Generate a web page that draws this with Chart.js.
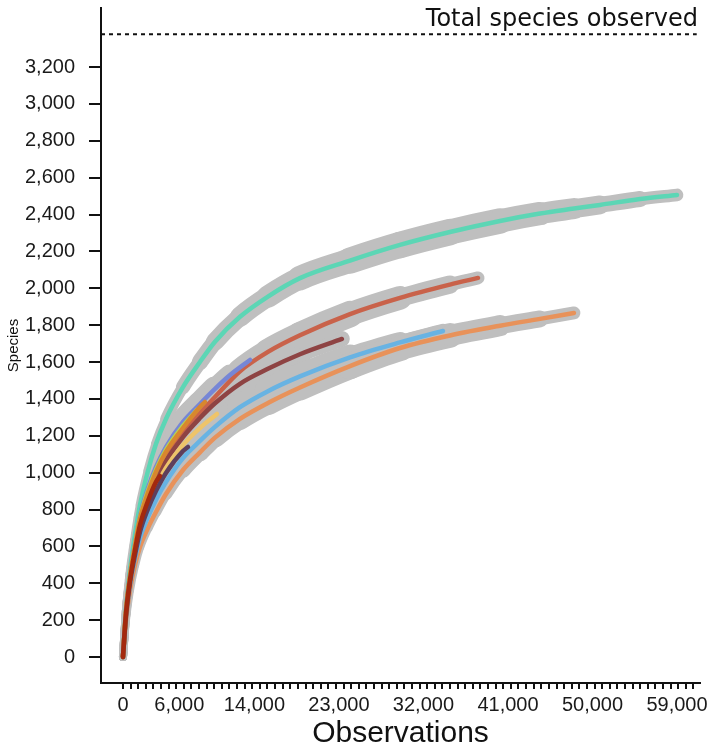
<!DOCTYPE html>
<html>
<head>
<meta charset="utf-8">
<script src="https://cdn.jsdelivr.net/npm/chart.js@4.4.1/dist/chart.umd.min.js"></script>
<style>
  html, body { margin: 0; padding: 0; background: #ffffff; }
  #wrap { width: 719px; height: 752px; }
</style>
</head>
<body>
<div id="wrap"><canvas id="c" width="719" height="752"></canvas></div>
<script>
// ---------- data ----------
const totalSpecies = 3378;
const xTickLabels = [0, 6000, 14000, 23000, 32000, 41000, 50000, 59000];
const yTickValues = [0, 200, 400, 600, 800, 1000, 1200, 1400, 1600, 1800, 2000, 2200, 2400, 2600, 2800, 3000, 3200];

const tealX = [0,320,745,1280,1810,2660,3510,4580,6390,8200,9800,12460,15440,18850,24180,29500,34820,40150,44410,48030,50800,55060,59000];
const tealY = [0,255,472,662,824,1009,1155,1291,1464,1600,1710,1845,1955,2055,2150,2235,2305,2365,2405,2432,2452,2484,2506];

const purpleX = [0,320,745,1280,1810,2660,3510,4580,6390,8200,9800,11400,13530];
const purpleY = [0,249,445,618,765,917,1030,1139,1275,1372,1454,1529,1611];

const ygreenX = [0,320,745,1280,1810,2660,3510,4580,6390,7880];
const ygreenY = [0,244,439,607,754,900,1014,1123,1253,1340];

const obrownX = [0,320,745,1280,1810,2660,3510,4580,6390,8200,8730];
const obrownY = [0,244,434,602,748,889,1003,1112,1242,1356,1383];

const redX = [0,320,745,1280,1810,2660,3510,4580,6390,8200,9800,12460,15440,18850,24180,29500,34820,37810];
const redY = [0,239,428,597,738,873,982,1090,1220,1323,1410,1550,1655,1745,1860,1948,2020,2056];

const maroonX = [0,320,745,1280,1810,2660,3510,4580,6390,8200,9800,12460,15440,18850,23320];
const maroonY = [0,233,418,580,716,852,955,1063,1193,1296,1376,1482,1563,1642,1725];

const darkredX = [0,320,745,1280,1810,2660,3510,3940];
const darkredY = [0,233,418,580,716,846,949,982];

const yellowX = [0,320,745,1280,1810,2660,3510,4580,6390,8200,10010];
const yellowY = [0,228,407,564,694,824,922,1025,1150,1242,1318];

const navyX = [0,320,745,1280,1810,2660,3510,4580,6390,6920];
const navyY = [0,222,401,553,678,803,900,998,1117,1139];

const lblueX = [0,320,745,1280,1810,2660,3510,4580,6390,8200,9800,12460,15440,18850,24180,29500,34080];
const lblueY = [0,217,391,537,645,759,852,949,1079,1172,1248,1355,1442,1522,1625,1706,1768];

const orangeX = [0,320,745,1280,1810,2660,3510,4580,6390,8200,9800,12460,15440,18850,24180,29500,34820,40150,44410,48030];
const orangeY = [0,201,363,499,597,700,786,884,1014,1110,1190,1292,1378,1462,1578,1676,1744,1797,1834,1866];

// ---------- series definition: [x, y, colour, drawing rank (0 = on top)] ----------
const series = [
  [tealX, tealY, '#5cd6b5', 10],
  [orangeX, orangeY, '#e8925a', 9],
  [lblueX, lblueY, '#68b3e3', 8],
  [redX, redY, '#c9624a', 7],
  [maroonX, maroonY, '#8e4343', 6],
  [purpleX, purpleY, '#7686d6', 5],
  [ygreenX, ygreenY, '#b8d54e', 4],
  [obrownX, obrownY, '#d8872e', 3],
  [yellowX, yellowY, '#eec46a', 2],
  [navyX, navyY, '#5e3f5c', 1],
  [darkredX, darkredY, '#a3290e', 0]
];

const X_MIN = -2340, X_MAX = 61450, Y_MIN = -141, Y_MAX = 3520;
const MINOR_STEP = 810, MINOR_COUNT = 75;
const FONT = '"Liberation Sans", Arial, sans-serif';

function pts(xs, ys) { return xs.map((x, i) => ({ x: x, y: ys[i] })); }

const datasets = [];
series.forEach(([xs, ys, col, rank]) => {
  const xEnd = xs[xs.length - 1];
  // grey uncertainty halo (narrow at the origin and at the curve's end)
  datasets.push({
    data: pts(xs, ys),
    borderColor: '#bfbfbf',
    borderWidth: 10,
    borderCapStyle: 'round',
    borderJoinStyle: 'round',
    pointRadius: 0,
    cubicInterpolationMode: 'monotone',
    fill: false,
    order: 100,
    segment: {
      borderWidth: ctx => {
        const xm = (ctx.p0.parsed.x + ctx.p1.parsed.x) / 2;
        const f = xm / xEnd;
        const grow = Math.min(1, xm / 8000);
        return 8 + 3 * f + 17 * Math.sin(Math.PI * f) * grow;
      }
    }
  });
  // coloured mean curve
  datasets.push({
    data: pts(xs, ys),
    borderColor: col,
    borderWidth: 4.5,
    borderCapStyle: 'round',
    borderJoinStyle: 'round',
    pointRadius: 0,
    cubicInterpolationMode: 'monotone',
    fill: false,
    order: rank
  });
});

// dotted total line
datasets.push({
  data: [{ x: X_MIN, y: totalSpecies }, { x: 61100, y: totalSpecies }],
  borderColor: '#111111',
  borderWidth: 2,
  borderDash: [4, 4],
  pointRadius: 0,
  tension: 0,
  fill: false,
  order: 50
});

const totalLabel = {
  id: 'totalLabel',
  afterDatasetsDraw(chart) {
    const { ctx } = chart;
    const y = chart.scales.y.getPixelForValue(totalSpecies);
    ctx.save();
    ctx.font = '24px "DejaVu Sans", sans-serif';
    ctx.fillStyle = '#111111';
    ctx.textAlign = 'right';
    ctx.textBaseline = 'alphabetic';
    ctx.fillText('Total species observed', 698, y - 8);
    ctx.restore();
  }
};

new Chart(document.getElementById('c'), {
  type: 'line',
  data: { datasets },
  plugins: [totalLabel],
  options: {
    responsive: false,
    animation: false,
    devicePixelRatio: 1,
    layout: { padding: { top: 8, right: 19, left: 0, bottom: 0 } },
    plugins: { legend: { display: false }, tooltip: { enabled: false } },
    scales: {
      x: {
        type: 'linear',
        min: X_MIN,
        max: X_MAX,
        afterBuildTicks: scale => {
          const t = [];
          for (let k = 0; k <= MINOR_COUNT; k++) t.push({ value: k * MINOR_STEP, minorMark: true });
          xTickLabels.forEach(v => {
            const hit = t.find(o => o.value === v);
            if (hit) hit.showLabel = true; else t.push({ value: v, showLabel: true });
          });
          t.sort((a, b) => a.value - b.value);
          scale.ticks = t;
        },
        afterFit: scale => {
          scale.height = 69;
          scale.paddingLeft = 0; scale.paddingRight = 0;
          scale.paddingTop = 0; scale.paddingBottom = 0;
        },
        grid: {
          drawOnChartArea: false,
          drawTicks: true,
          tickLength: 6,
          lineWidth: 2,
          color: ctx => (ctx.tick && ctx.tick.minorMark) ? '#111111' : 'rgba(0,0,0,0)'
        },
        border: { display: true, color: '#111111', width: 2 },
        ticks: {
          autoSkip: false,
          maxRotation: 0,
          minRotation: 0,
          padding: 4,
          color: '#1a1a1a',
          font: { family: FONT, size: 20 },
          callback: function (value, index, ticks) {
            return ticks[index].showLabel ? Number(value).toLocaleString('en-US') : '';
          }
        },
        title: {
          display: true,
          text: 'Observations',
          color: '#111111',
          font: { family: FONT, size: 30 },
          padding: { top: 0, bottom: 0 }
        }
      },
      y: {
        type: 'linear',
        min: Y_MIN,
        max: Y_MAX,
        afterBuildTicks: scale => { scale.ticks = yTickValues.map(v => ({ value: v })); },
        afterFit: scale => {
          scale.width = 101;
          scale.paddingTop = 0; scale.paddingBottom = 0;
          scale.paddingLeft = 0; scale.paddingRight = 0;
        },
        grid: {
          drawOnChartArea: false,
          drawTicks: true,
          tickLength: 12,
          lineWidth: 2,
          color: '#111111'
        },
        border: { display: true, color: '#111111', width: 2 },
        ticks: {
          padding: 14,
          color: '#1a1a1a',
          font: { family: FONT, size: 20 },
          callback: v => Number(v).toLocaleString('en-US')
        },
        title: {
          display: true,
          text: 'Species',
          color: '#111111',
          font: { family: FONT, size: 15 },
          padding: { top: 5, bottom: 0 }
        }
      }
    }
  }
});
</script>
</body>
</html>
